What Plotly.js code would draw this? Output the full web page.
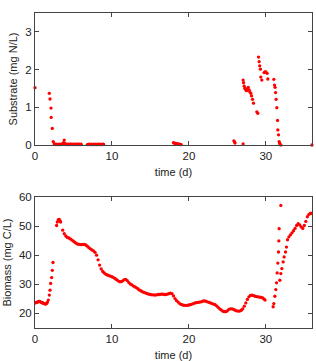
<!DOCTYPE html>
<html>
<head>
<meta charset="utf-8">
<script src="https://cdn.plot.ly/plotly-3.0.1.min.js"></script>
<style>html,body{margin:0;padding:0;background:#fff;}#chart{width:316px;height:361px;}</style>
</head>
<body>
<div id="chart"></div>
<script>
// Substrate (mg N/L) observations
const substrateTime = [0, 1.86, 1.95, 2.08, 2.1, 2.25, 2.37,
  2.5, 2.6, 2.7, 2.8, 2.9, 3.0, 3.1, 3.2, 3.3, 3.4, 3.5, 3.6, 3.7, 3.8, 3.9, 4.0, 4.1, 4.2, 4.3, 4.4, 4.5, 4.6, 4.7, 4.8, 4.9, 5.0, 5.1, 5.2, 5.3, 5.4, 5.5, 5.6, 5.7, 5.8, 5.9, 6.0,
  6.8, 6.9, 7.0, 7.1, 7.2, 7.3, 7.4, 7.5, 7.6, 7.7, 7.8, 7.9, 8.0, 8.1, 8.2, 8.3, 8.4, 8.5, 8.6, 8.7, 8.8, 8.9,
  18.0, 18.1, 18.2, 18.3, 18.4, 18.5, 18.6, 18.7, 18.8, 18.9, 19.0,
  25.85, 25.93, 26.0, 27.05,
  27.05, 27.1, 27.19, 27.27, 27.4, 27.5, 27.58, 27.71, 27.84, 27.92, 28.05, 28.14, 28.27, 28.4, 28.83, 28.96,
  29.05, 29.13, 29.2, 29.3, 29.35, 29.48, 29.78, 29.9, 30.0, 30.17, 30.26,
  31.04, 31.13, 31.2, 31.26, 31.34, 31.43, 31.52, 31.56, 31.65, 31.73, 31.8, 31.95, 36.0];
const substrateValue = [1.52, 1.37, 1.22, 0.98, 0.73, 0.44, 0.09,
  0.03, 0.02, 0.01, 0.02, 0.01, 0.01, 0.02, 0.01, 0.02, 0.01, 0.02, 0.03, 0.06, 0.13, 0.04, 0.02, 0.01, 0.02, 0.01, 0.02, 0.01, 0.02, 0.02, 0.01, 0.02, 0.01, 0.02, 0.01, 0.02, 0.01, 0.02, 0.02, 0.01, 0.02, 0.01, 0.02,
  0.01, 0.01, 0.02, 0.01, 0.01, 0.02, 0.01, 0.01, 0.02, 0.01, 0.01, 0.02, 0.01, 0.01, 0.02, 0.01, 0.02, 0.01, 0.01, 0.02, 0.01, 0.02,
  0.06, 0.05, 0.04, 0.04, 0.03, 0.03, 0.02, 0.02, 0.02, 0.01, 0.01,
  0.11, 0.08, 0.05, 0.03,
  1.72, 1.65, 1.56, 1.50, 1.46, 1.44, 1.48, 1.53, 1.46, 1.41, 1.37, 1.30, 1.21, 1.11, 0.88, 0.84,
  2.33, 2.21, 2.10, 2.01, 1.80, 1.72, 1.92, 1.94, 1.94, 1.90, 1.75,
  1.74, 1.59, 1.53, 1.39, 1.21, 0.99, 0.65, 0.40, 0.27, 0.09, 0.04, 0.0, 0.0];

// Biomass (mg C/L) observations
const biomassTime = [0, 0.1, 0.2, 0.3, 0.4, 0.5, 0.6, 0.7, 0.8, 0.9, 1.0, 1.1, 1.2, 1.3, 1.4, 1.5, 1.6,
  1.73, 1.86, 1.95, 2.03, 2.16, 2.25, 2.34,
  2.81, 2.9, 3.03, 3.16, 3.25, 3.33,
  3.6, 3.8, 4.0, 4.2, 4.4, 4.6, 4.8, 5.0, 5.2, 5.4, 5.6, 5.8, 6.0, 6.2, 6.4, 6.6, 6.8, 7.0, 7.2, 7.4, 7.6, 7.8,
  8.0, 8.2, 8.4, 8.6, 8.8, 9.0, 9.2, 9.4, 9.6, 9.8, 10.0, 10.2, 10.4, 10.6, 10.8, 11.0, 11.2, 11.4, 11.6, 11.8,
  12.0, 12.2, 12.4, 12.6, 12.8, 13.0, 13.2, 13.4, 13.6, 13.8, 14.0, 14.2, 14.4, 14.6, 14.8, 15.0, 15.2, 15.4, 15.6, 15.8,
  16.0, 16.2, 16.4, 16.6, 16.8, 17.0, 17.2, 17.4, 17.6, 17.8, 18.0, 18.2, 18.4, 18.6, 18.8, 19.0, 19.2, 19.4, 19.6, 19.8,
  20.0, 20.2, 20.4, 20.6, 20.8, 21.0, 21.2, 21.4, 21.6, 21.8, 22.0, 22.2, 22.4, 22.6, 22.8, 23.0, 23.2, 23.4, 23.6, 23.8,
  24.0, 24.2, 24.4, 24.6, 24.8, 25.0, 25.2, 25.4, 25.6, 25.8, 26.0, 26.2, 26.4, 26.6, 26.8, 27.0, 27.2, 27.4, 27.6, 27.8,
  28.0, 28.2, 28.4, 28.6, 28.8, 29.0, 29.2, 29.4, 29.6, 29.8, 29.9,
  30.95, 31.04, 31.17, 31.3, 31.39, 31.47, 31.56, 31.65, 31.69, 31.73, 31.95,
  31.82, 31.95, 32.08, 32.25, 32.38, 32.56, 32.68, 32.82, 33.0, 33.2, 33.4, 33.6, 33.8, 34.0, 34.2, 34.4, 34.6, 34.8, 35.0, 35.2, 35.4, 35.6, 35.8, 36.0];
const biomassValue = [23.6, 23.7, 23.8, 23.9, 24.0, 24.1, 24.1, 24.0, 23.8, 23.7, 23.6, 23.5, 23.4, 23.3, 23.2, 23.4, 23.8,
  24.6, 26.3, 28.0, 30.3, 32.3, 34.8, 37.5,
  50.2, 51.4, 52.2, 52.3, 51.8, 51.4,
  48.6, 47.4, 46.6, 46.1, 45.9, 45.6, 45.2, 44.8, 44.4, 44.0, 43.8, 43.7, 43.6, 43.7, 43.7, 43.5, 43.1, 42.6, 42.2, 41.8, 41.5, 41.0,
  40.0, 38.4, 36.6, 35.3, 34.4, 33.9, 33.5, 33.2, 33.0, 32.8, 32.6, 32.3, 32.0, 31.6, 31.2, 30.9, 30.9, 31.2, 31.6, 31.7,
  31.3, 30.6, 30.1, 29.8, 29.4, 29.1, 28.8, 28.4, 28.0, 27.7, 27.4, 27.2, 27.0, 26.8, 26.6, 26.5, 26.4, 26.4, 26.3, 26.4,
  26.5, 26.5, 26.6, 26.6, 26.5, 26.5, 26.6, 26.8, 27.0, 26.8, 26.0, 25.1, 24.4, 23.9, 23.4, 23.1, 22.9, 22.8, 22.8, 22.8,
  22.9, 23.0, 23.2, 23.4, 23.6, 23.7, 23.8, 23.9, 24.0, 24.2, 24.3, 24.2, 24.0, 23.8, 23.6, 23.4, 23.2, 23.0, 22.6, 22.1,
  21.6, 21.2, 20.8, 20.6, 20.6, 20.9, 21.4, 21.6, 21.6, 21.4, 21.1, 20.9, 20.8, 20.8, 21.1, 21.6, 22.5, 23.6, 24.8, 25.7,
  26.2, 26.3, 26.1, 25.9, 25.8, 25.7, 25.6, 25.5, 25.3, 24.9, 24.6,
  22.3, 23.4, 25.9, 28.2, 30.5, 33.9, 37.3, 41.1, 44.9, 49.1, 57.1,
  31.4, 33.7, 35.4, 37.7, 39.4, 41.1, 42.8, 45.3, 46.3, 47.0, 47.7, 48.4, 49.2, 50.2, 50.8, 50.4, 49.7, 49.2, 50.2, 51.6, 53.2, 54.0, 54.4, 54.3];

const xTickVals = [0, 10, 20, 30];
const substrateTicks = [0, 1, 2, 3];
const biomassTicks = [20, 30, 40, 50, 60];

const markerStyle = {color: '#ff0000', size: 3.3};
const traces = [
  {x: substrateTime, y: substrateValue, type: 'scatter', mode: 'markers', marker: markerStyle, xaxis: 'x', yaxis: 'y', cliponaxis: false},
  {x: biomassTime, y: biomassValue, type: 'scatter', mode: 'markers', marker: markerStyle, xaxis: 'x2', yaxis: 'y2'}
];

const fontFam = '"Liberation Sans", Arial, sans-serif';
function xAx(domainAnchor) {
  return {
    range: [0, 36], tickvals: xTickVals, ticks: 'inside', ticklen: 4, tickcolor: '#444',
    showline: true, linecolor: '#444', linewidth: 1, mirror: 'ticks', showgrid: false, zeroline: false,
    anchor: domainAnchor, tickfont: {size: 11.5, color: '#222', family: fontFam},
    title: {text: 'time (d)', font: {size: 11, color: '#222', family: fontFam}, standoff: 7}
  };
}
function yAx(range, tv, title, dom, anchor) {
  return {
    range: range, tickvals: tv, domain: dom, anchor: anchor, ticks: 'inside', ticklen: 4, tickcolor: '#444',
    showline: true, linecolor: '#444', linewidth: 1, mirror: 'ticks', showgrid: false, zeroline: false,
    tickfont: {size: 11.5, color: '#222', family: fontFam},
    title: {text: title, font: {size: 11, color: '#222', family: fontFam}, standoff: 5}
  };
}

const layout = {
  width: 316, height: 361,
  margin: {l: 35, r: 4, t: 13, b: 33},
  paper_bgcolor: '#fff', plot_bgcolor: '#fff',
  showlegend: false,
  font: {family: fontFam},
  xaxis: xAx('y'),
  yaxis: yAx([0, 3.5], substrateTicks, 'Substrate (mg N/L)', [0.581, 1], 'x'),
  xaxis2: xAx('y2'),
  yaxis2: yAx([15, 60], biomassTicks, 'Biomass (mg C/L)', [0, 0.416], 'x2')
};

Plotly.newPlot('chart', traces, layout, {displayModeBar: false, staticPlot: true});
</script>
</body>
</html>
